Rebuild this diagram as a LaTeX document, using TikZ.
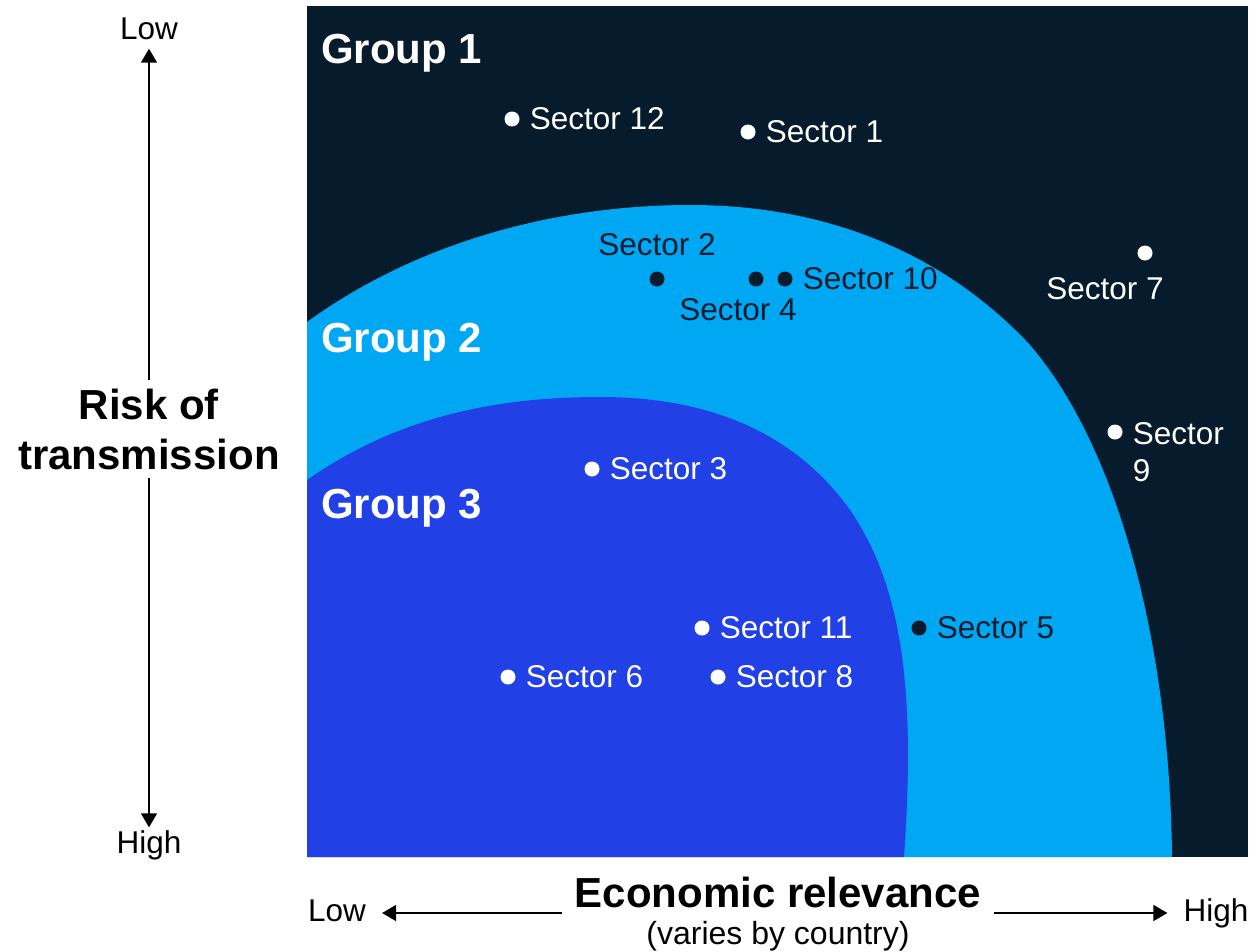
\documentclass[tikz,border=0pt]{standalone}
\usepackage{fontspec}
\setmainfont{Liberation Sans}
\usetikzlibrary{arrows.meta, positioning}
\definecolor{navy}{HTML}{061B2C}
\definecolor{sky}{HTML}{00A8F3}
\definecolor{royal}{HTML}{2140E6}
\newcommand{\sectorfont}{\fontsize{31.5}{37.5}\selectfont}
\newcommand{\headfont}{\fontsize{42}{50}\selectfont\bfseries}

\begin{document}
\begin{tikzpicture}[x=1pt, y=-1pt,
    wdot/.style={circle, fill=white, inner sep=0pt, minimum size=15pt},
    ndot/.style={circle, fill=navy, inner sep=0pt, minimum size=15pt},
    wlab/.style={text=white, font=\sectorfont, inner sep=2pt},
    nlab/.style={text=navy, font=\sectorfont, inner sep=2pt},
    grp/.style={text=white, font=\headfont, anchor=base west, inner sep=0pt},
    axlab/.style={font=\sectorfont, text height=22.5pt, text depth=6.5pt, inner xsep=16pt, inner ysep=3pt},
    axis/.style={-{Triangle[width=16pt, length=14pt]}, line width=1.5pt}]
    \useasboundingbox (0,0) rectangle (1251,951);
    % regions
    \fill[navy] (307,6) rectangle (1248,857);
    \fill[sky] (307,857) -- (307,322) .. controls (420,240) and (560,205) .. (690,205)
        .. controls (850,205) and (960,270) .. (1030,345)
        .. controls (1120,450) and (1170,650) .. (1172,857) -- cycle;
    \fill[royal] (307,857) -- (307,480) .. controls (400,415) and (500,397) .. (600,397)
        .. controls (720,397) and (800,440) .. (850,510)
        .. controls (905,590) and (915,700) .. (904,857) -- cycle;
    % groups
    \node[grp] (g1) at (321,63) {Group 1};
    \node[grp] (g2) at (321,352) {Group 2};
    \node[grp] (g3) at (321,518) {Group 3};
    % sectors
    \node[wdot] (s12) at (512,119) {};
    \node[wlab, right=8pt of s12] (l12) {Sector 12};
    \node[wdot] (s1) at (748,132) {};
    \node[wlab, right=8pt of s1] (l1) {Sector 1};
    \node[ndot] (s2) at (657,279) {};
    \node[nlab, above=13pt of s2] (l2) {Sector 2};
    \node[ndot] (s4) at (756,279) {};
    \node[nlab, below=10pt of s4, xshift=-18pt] (l4) {Sector 4};
    \node[ndot] (s10) at (785,279) {};
    \node[nlab, right=8pt of s10] (l10) {Sector 10};
    \node[wdot] (s7) at (1145,253) {};
    \node[wlab, below=15pt of s7, xshift=-40pt] (l7) {Sector 7};
    \node[wdot] (s9) at (1115,432) {};
    \node[wlab, align=left, right=8pt of s9, yshift=-20pt] (l9) {Sector\\9};
    \node[wdot] (s3) at (592,469) {};
    \node[wlab, right=8pt of s3] (l3) {Sector 3};
    \node[wdot] (s11) at (702,628) {};
    \node[wlab, right=8pt of s11] (l11) {Sector 11};
    \node[ndot] (s5) at (919,628) {};
    \node[nlab, right=8pt of s5] (l5) {Sector 5};
    \node[wdot] (s6) at (508,677) {};
    \node[wlab, right=8pt of s6] (l6) {Sector 6};
    \node[wdot] (s8) at (718,677) {};
    \node[wlab, right=8pt of s8] (l8) {Sector 8};
    % axes
    \node[font=\headfont, align=center, inner sep=8pt] (risk) at (149,429) {Risk of\\transmission};
    \node[axlab] (ylow) at (149,31) {Low};
    \node[axlab] (yhigh) at (149,845) {High};
    \draw[axis] (risk) -- (ylow);
    \draw[axis] (risk) -- (yhigh);
    \node[font=\headfont, inner xsep=13pt] (econ) at (778,892) {Economic relevance};
    \node[font=\fontsize{32}{38}\selectfont] (vary) at (778,936) {(varies by country)};
    \node[axlab] (xlow) at (337,913) {Low};
    \node[axlab] (xhigh) at (1216,913) {High};
    \draw[axis] (xlow -| econ.west) -- (xlow.east);
    \draw[axis] (xhigh -| econ.east) -- (xhigh.west);
\end{tikzpicture}
\end{document}
